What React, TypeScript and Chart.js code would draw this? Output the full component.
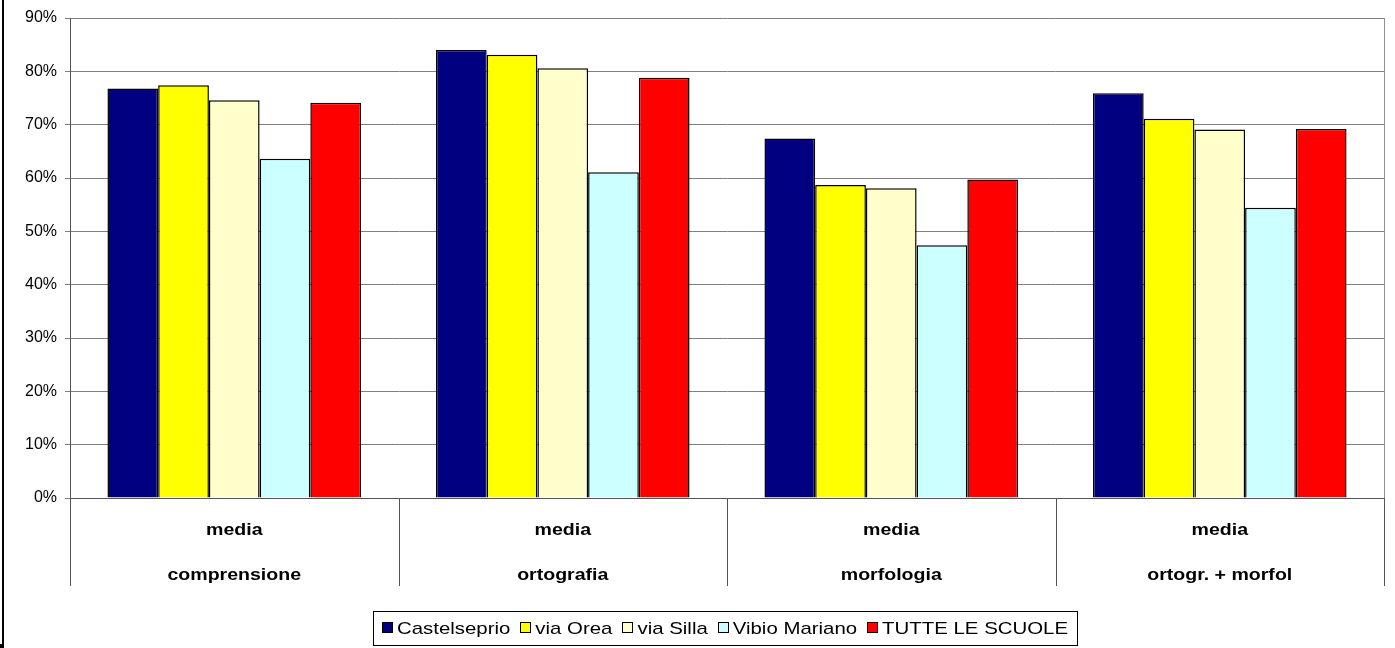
import React, { useEffect, useRef } from "react";
import { Chart, registerables } from "chart.js";

Chart.register(...registerables);

const categories: string[][] = [
  ["media", "comprensione"],
  ["media", "ortografia"],
  ["media", "morfologia"],
  ["media", "ortogr. + morfol"],
];

const seriesNames = ["Castelseprio", "via Orea", "via Silla", "Vibio Mariano", "TUTTE LE SCUOLE"];
const seriesColors = ["#000080", "#FFFF00", "#FFFFCC", "#CCFFFF", "#FF0000"];

const castelseprio = [76.8, 84.0, 67.4, 75.9];
const viaOrea = [77.4, 83.1, 58.7, 71.1];
const viaSilla = [74.6, 80.6, 58.1, 69.1];
const vibioMariano = [63.6, 61.1, 47.4, 54.4];
const tutteLeScuole = [74.1, 78.8, 59.7, 69.2];

const yMin = 0;
const yMax = 90;
const yStep = 10;

const FONT = '"Liberation Sans", Arial, sans-serif';

function scaledText(ctx: CanvasRenderingContext2D, text: string, x: number, y: number, sx: number, align: CanvasTextAlign) {
  ctx.save();
  ctx.translate(x, y);
  ctx.scale(sx, 1);
  ctx.textAlign = align;
  ctx.fillText(text, 0, 0);
  ctx.restore();
}

const decorPlugin = {
  id: "decor",
  afterDraw(chart: any) {
    const { ctx, chartArea, scales } = chart;
    const xs = scales.x;
    const n = categories.length;
    const catW = (chartArea.right - chartArea.left) / n;
    ctx.save();
    // right plot border
    ctx.strokeStyle = "#909090";
    ctx.lineWidth = 1;
    ctx.beginPath();
    ctx.moveTo(Math.round(chartArea.right) + 0.5, chartArea.top);
    ctx.lineTo(Math.round(chartArea.right) + 0.5, chartArea.bottom);
    ctx.stroke();
    // category separators below the axis
    ctx.strokeStyle = "#555555";
    for (let i = 0; i <= n; i++) {
      const x = Math.round(chartArea.left + i * catW) + 0.5;
      ctx.beginPath();
      ctx.moveTo(x, chartArea.bottom);
      ctx.lineTo(x, chartArea.bottom + 88);
      ctx.stroke();
    }
    // category labels
    ctx.fillStyle = "#000";
    ctx.font = `bold 17px ${FONT}`;
    ctx.textBaseline = "middle";
    categories.forEach((lines, i) => {
      const cx = xs.getPixelForValue(i);
      lines.forEach((t, j) => {
        scaledText(ctx, t, cx, chartArea.bottom + 32 + j * 45, 1.15, "center");
      });
    });
    // legend
    const sx = 1.2;
    ctx.font = `17px ${FONT}`;
    const box = 10, gapT = 5, gapI = 10, padX = 8;
    const widths = seriesNames.map((s) => ctx.measureText(s).width * sx);
    const total = widths.reduce((a, b) => a + b, 0) + seriesNames.length * (box + gapT) + (seriesNames.length - 1) * gapI;
    const center = (chartArea.left + chartArea.right) / 2 - 2;
    const ly = 628;
    let x = center - total / 2;
    ctx.strokeStyle = "#000";
    ctx.lineWidth = 1;
    ctx.strokeRect(Math.round(x - padX - 1) + 0.5, 611.5, Math.round(total + 2 * padX + 2), 34);
    seriesNames.forEach((s, i) => {
      ctx.fillStyle = seriesColors[i];
      ctx.fillRect(Math.round(x) + 0.5, ly - 5.5, box, box);
      ctx.strokeStyle = "#000";
      ctx.strokeRect(Math.round(x) + 0.5, ly - 5.5, box, box);
      x += box + gapT;
      ctx.fillStyle = "#000";
      scaledText(ctx, s, x, ly + 1, sx, "left");
      x += widths[i] + gapI;
    });
    // outer frame remnants
    ctx.fillStyle = "#000";
    ctx.fillRect(2, 0, 2, 648);
    ctx.fillRect(0, 644, 4, 4);
    ctx.restore();
  },
};

export default function App() {
  const ref = useRef<HTMLCanvasElement | null>(null);
  useEffect(() => {
    if (!ref.current) return;
    const data = [castelseprio, viaOrea, viaSilla, vibioMariano, tutteLeScuole];
    const chart = new Chart(ref.current, {
      type: "bar",
      data: {
        labels: categories.map((c) => c.join(" ")),
        datasets: seriesNames.map((name, i) => ({
          label: name,
          data: data[i],
          backgroundColor: seriesColors[i],
          borderColor: "#000",
          borderWidth: 1.5,
          barPercentage: 1,
          categoryPercentage: 0.772,
        })),
      },
      options: {
        responsive: false,
        animation: false,
        devicePixelRatio: 1,
        layout: { padding: { top: 18, right: 11, left: 0, bottom: 0 } },
        plugins: { legend: { display: false }, tooltip: { enabled: false } },
        scales: {
          x: {
            grid: { display: false },
            ticks: { display: false },
            border: { display: true, color: "#555555", width: 1 },
            afterFit: (s: any) => {
              s.height = 150;
            },
          },
          y: {
            min: yMin,
            max: yMax,
            ticks: {
              stepSize: yStep,
              color: "#000",
              font: { family: FONT, size: 16 },
              padding: 8,
              callback: (v: any) => `${v}%`,
            },
            grid: { color: "#808080", lineWidth: 1, tickLength: 5 },
            border: { display: true, color: "#555555", width: 1 },
            afterFit: (s: any) => {
              s.width = 70;
            },
          },
        },
      },
      plugins: [decorPlugin],
    });
    return () => chart.destroy();
  }, []);
  return (
    <div style={{ position: "absolute", left: 0, top: 0, width: 1395, height: 648, background: "#fff" }}>
      <canvas ref={ref} width={1395} height={648} style={{ width: 1395, height: 648, display: "block" }} />
    </div>
  );
}
